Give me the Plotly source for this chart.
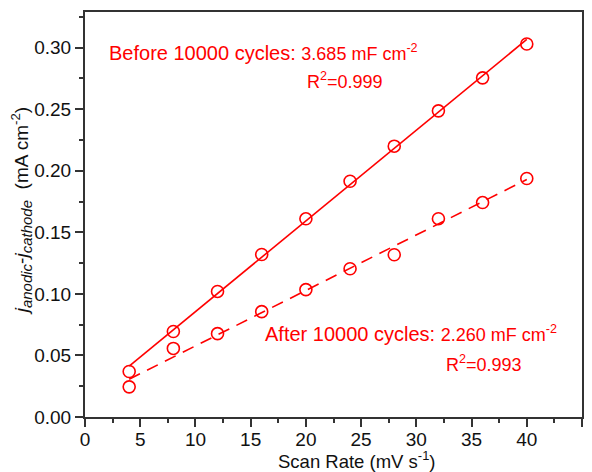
import numpy as np
import plotly.graph_objects as go

scan_rate = [4, 8, 12, 16, 20, 24, 28, 32, 36, 40]
before = [0.037, 0.0695, 0.102, 0.132, 0.161, 0.1915, 0.220, 0.2487, 0.2755, 0.303]
after = [0.0245, 0.0557, 0.0677, 0.0856, 0.1035, 0.1204, 0.1318, 0.1611, 0.1742, 0.1937]

RED = "#ff0000"
FONT = "Liberation Sans, Arial, sans-serif"

def fit(x, y):
    k, b = np.polyfit(x, y, 1)
    xs = [min(x), max(x)]
    return xs, [k * v + b for v in xs]

fig = go.Figure()
for ys, dash in [(before, "solid"), (after, "dash")]:
    fx, fy = fit(scan_rate, ys)
    fig.add_trace(go.Scatter(x=fx, y=fy, mode="lines",
                             line=dict(color=RED, width=1.6, dash="12px,8px" if dash == "dash" else "solid"),
                             showlegend=False, hoverinfo="skip"))
    fig.add_trace(go.Scatter(x=scan_rate, y=ys, mode="markers",
                             marker=dict(symbol="circle-open", size=12, color=RED, line=dict(width=1.6, color=RED)),
                             showlegend=False))

axis_common = dict(showline=True, linecolor="#333333", linewidth=2, mirror=True,
                   ticks="outside", ticklen=8, tickwidth=1.5, tickcolor="#333333",
                   showgrid=False, zeroline=False, automargin=False,
                   tickfont=dict(family=FONT, size=19, color="#111111"))

fig.update_xaxes(range=[0, 45], dtick=5, tick0=0, ticklabelstandoff=-4,
                 minor=dict(ticks="outside", ticklen=4, dtick=2.5, tick0=0, tickcolor="#333333", tickwidth=1.5),
                 **axis_common)
fig.update_yaxes(range=[0, 0.329], dtick=0.05, tick0=0, tickformat=".2f",
                 minor=dict(ticks="outside", ticklen=4, dtick=0.025, tick0=0, tickcolor="#333333", tickwidth=1.5),
                 **axis_common)

title_font = dict(family=FONT, size=18.5, color="#111111")
fig.add_annotation(x=0.547, y=-0.106, xref="paper", yref="paper", text="Scan Rate (mV s<sup>-1</sup>)",
                   showarrow=False, font=title_font, yanchor="middle")
sub = '<sub><span style="font-size:15px"><i>{}</i></span></sub>'
fig.add_annotation(text="<i>j</i>" + sub.format("anodic") + "-<i>j</i>" + sub.format("cathode") + "  (mA cm<sup>-2</sup>)",
                   x=-0.127, y=0.51, xref="paper", yref="paper", textangle=-90, showarrow=False,
                   font=dict(family=FONT, size=19, color="#111111"), xanchor="center", yanchor="middle")

big = dict(family=FONT, size=20, color=RED)
small = '<span style="font-size:18px">{}</span>'
annotations = [
    (2.0, 0.296, "Before 10000 cycles: " + small.format("3.685 mF cm<sup>-2</sup>")),
    (19.9, 0.273, small.format("R<sup>2</sup>=0.999")),
    (16.1, 0.0677, "After 10000 cycles: " + small.format("2.260 mF cm<sup>-2</sup>")),
    (32.5, 0.0432, small.format("R<sup>2</sup>=0.993")),
]
for x, y, t in annotations:
    fig.add_annotation(x=x, y=y, text=t, showarrow=False, xanchor="left", yanchor="middle", font=big)

# page body has an 8px default margin, so the figure is drawn 8px smaller and offset
fig.update_layout(width=584, height=464, margin=dict(l=77, r=10, t=4, b=55),
                  plot_bgcolor="white", paper_bgcolor="white")
fig.write_html("out.html")
